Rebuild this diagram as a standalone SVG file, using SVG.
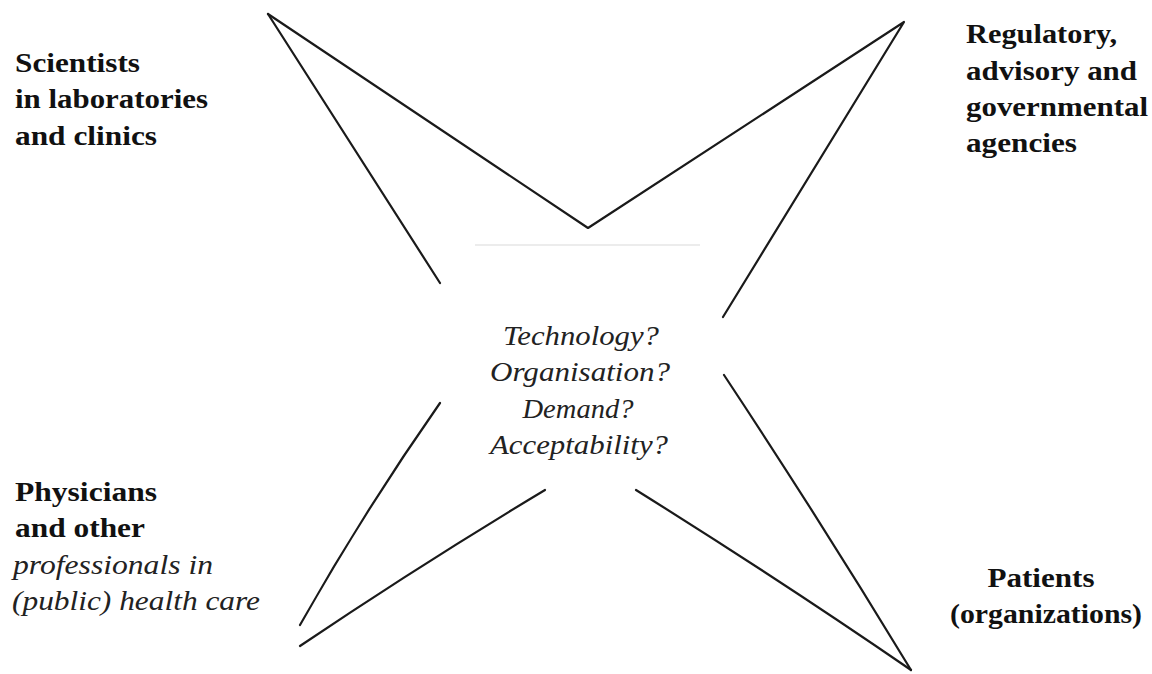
<svg xmlns="http://www.w3.org/2000/svg" width="1152" height="674" viewBox="0 0 1152 674">
<style>
.ln{fill:none;stroke:#1a1a1a;stroke-width:2.2;stroke-linecap:round;stroke-linejoin:round}
.lb{font-family:"Liberation Serif","Times New Roman",serif;font-size:27px;font-weight:bold;fill:#111}
.it{font-family:"Liberation Serif","Times New Roman",serif;font-size:27px;font-style:italic;fill:#222}
</style>
<rect width="1152" height="674" fill="#fff"/>
<g id="connectors">
<path class="ln" d="M268,14 L588,228 L904,22 L723,317"/>
<path class="ln" d="M268,14 L440,283"/>
<path class="ln" d="M440,403 Q365,510 300,625"/>
<path class="ln" d="M545,490 Q420,565 300,646"/>
<path class="ln" d="M636,490 Q780,580 911,670"/>
<path class="ln" d="M724,375 Q820,520 911,670"/>
<line x1="475" y1="245" x2="700" y2="245" stroke="#e6e6e6" stroke-width="1.5"/>
</g>
<g id="node-scientists">
<text class="lb" x="15" y="72" textLength="125" lengthAdjust="spacingAndGlyphs">Scientists</text>
<text class="lb" x="15" y="108" textLength="193" lengthAdjust="spacingAndGlyphs">in laboratories</text>
<text class="lb" x="15" y="145" textLength="142" lengthAdjust="spacingAndGlyphs">and clinics</text>
</g>
<g id="node-regulatory">
<text class="lb" x="966" y="43" textLength="151" lengthAdjust="spacingAndGlyphs">Regulatory,</text>
<text class="lb" x="966" y="80" textLength="171" lengthAdjust="spacingAndGlyphs">advisory and</text>
<text class="lb" x="966" y="116" textLength="182" lengthAdjust="spacingAndGlyphs">governmental</text>
<text class="lb" x="966" y="152" textLength="111" lengthAdjust="spacingAndGlyphs">agencies</text>
</g>
<g id="node-physicians">
<text class="lb" x="15" y="501" textLength="142" lengthAdjust="spacingAndGlyphs">Physicians</text>
<text class="lb" x="15" y="537" textLength="130" lengthAdjust="spacingAndGlyphs">and other</text>
<text class="it" x="13" y="574" textLength="200" lengthAdjust="spacingAndGlyphs">professionals in</text>
<text class="it" x="12" y="610" textLength="248" lengthAdjust="spacingAndGlyphs">(public) health care</text>
</g>
<g id="node-patients">
<text class="lb" x="1041" y="587" text-anchor="middle" textLength="107" lengthAdjust="spacingAndGlyphs">Patients</text>
<text class="lb" x="1046" y="623" text-anchor="middle" textLength="192" lengthAdjust="spacingAndGlyphs">(organizations)</text>
</g>
<g id="node-center">
<text class="it" x="581" y="345" text-anchor="middle" textLength="156" lengthAdjust="spacingAndGlyphs">Technology?</text>
<text class="it" x="580" y="381" text-anchor="middle" textLength="180" lengthAdjust="spacingAndGlyphs">Organisation?</text>
<text class="it" x="578" y="418" text-anchor="middle" textLength="111" lengthAdjust="spacingAndGlyphs">Demand?</text>
<text class="it" x="579" y="454" text-anchor="middle" textLength="178" lengthAdjust="spacingAndGlyphs">Acceptability?</text>
</g>
</svg>
